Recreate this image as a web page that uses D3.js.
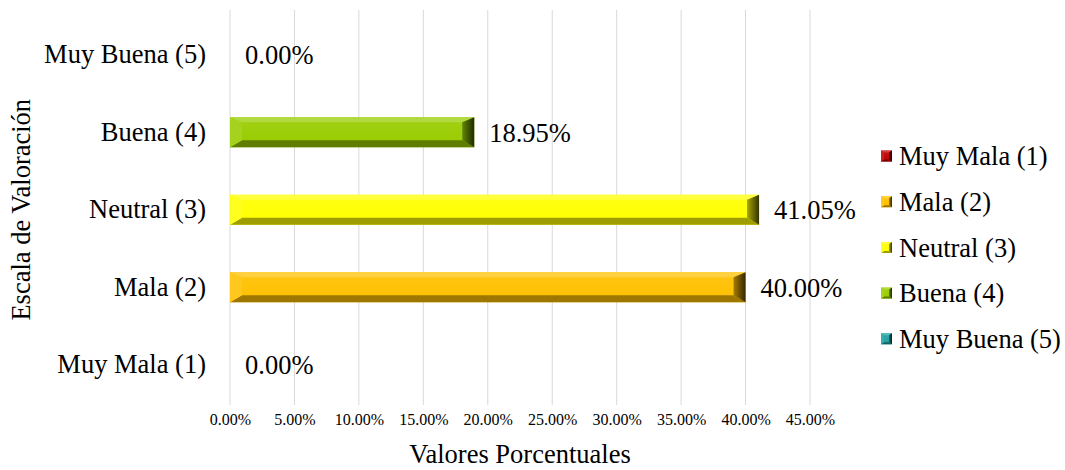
<!DOCTYPE html>
<html>
<head>
<meta charset="utf-8">
<script src="https://cdn.jsdelivr.net/npm/d3@7"></script>
<style>
  html, body { margin: 0; padding: 0; background: #fff; }
  svg { display: block; }
  svg text { font-family: "Liberation Serif", "Times New Roman", serif; fill: #000; }
</style>
</head>
<body>
<svg id="chart" width="1065" height="470"></svg>
<script>
// Rating scale categories (bottom to top) and their percentages
const categories = ["Muy Mala (1)", "Mala (2)", "Neutral (3)", "Buena (4)", "Muy Buena (5)"];
const values = [0.00, 40.00, 41.05, 18.95, 0.00];
const tickValues = [0, 5, 10, 15, 20, 25, 30, 35, 40, 45];
const barColors = ["#c00000", "#ffc000", "#ffff00", "#99cc00", "#1fa0a0"];

const FONT = "'Liberation Serif', 'Times New Roman', serif";
const BIG = 26.5;

const svg = d3.select("#chart");
const plot = { left: 230, right: 810, top: 16, bottom: 403.5 };

const x = d3.scaleLinear().domain([0, 45]).range([plot.left, plot.right]);
const y = d3.scaleBand()
  .domain(categories.slice().reverse())
  .range([plot.top, plot.bottom])
  .paddingInner(0.61)
  .paddingOuter(0.305);

// Vertical gridlines
svg.append("g")
  .selectAll("line")
  .data(tickValues)
  .join("line")
  .attr("x1", d => x(d)).attr("x2", d => x(d))
  .attr("y1", 10).attr("y2", 405)
  .attr("stroke", "#d9d9d9").attr("stroke-width", 1);

// Bottom axis: labels only
const xAxis = d3.axisBottom(x)
  .tickValues(tickValues)
  .tickFormat(d => d.toFixed(2) + "%")
  .tickSize(0)
  .tickPadding(0);
const gx = svg.append("g").attr("transform", "translate(0,414)").call(xAxis);
gx.attr("font-family", FONT);
gx.select(".domain").remove();
gx.selectAll("text")
  .attr("font-family", FONT)
  .attr("font-size", 16).attr("fill", "#000");

// Left axis: category labels
const yAxis = d3.axisLeft(y).tickSize(0).tickPadding(24);
const gy = svg.append("g").attr("transform", `translate(${plot.left},0)`).call(yAxis);
gy.attr("font-family", FONT);
gy.select(".domain").remove();
gy.selectAll("text")
  .attr("font-family", FONT)
  .attr("font-size", BIG).attr("fill", "#000");

// Colour helpers for the bevelled look
const shade = (c, k) => d3.interpolateRgb(c, "#000")(k);
const tint = (c, k) => d3.interpolateRgb(c, "#fff")(k);

const defs = svg.append("defs");
barColors.forEach((c, i) => {
  const g = defs.append("linearGradient").attr("id", "rend" + i)
    .attr("x1", "0").attr("x2", "1").attr("y1", "0").attr("y2", "0");
  g.append("stop").attr("offset", "0").attr("stop-color", shade(c, 0.35));
  g.append("stop").attr("offset", "1").attr("stop-color", shade(c, 0.8));
  const f = defs.append("linearGradient").attr("id", "face" + i)
    .attr("x1", "0").attr("x2", "0").attr("y1", "0").attr("y2", "1");
  f.append("stop").attr("offset", "0").attr("stop-color", tint(c, 0.08));
  f.append("stop").attr("offset", "1").attr("stop-color", c);
});

// Draws a bevelled rectangle (light from upper left)
function bevel(g, x0, y0, w, h, i, bx, bt, bb) {
  const c = barColors[i];
  const x1 = x0 + w, y1 = y0 + h;
  const ix0 = x0 + Math.min(bx, w / 2), ix1 = x1 - Math.min(bx, w / 2);
  const iy0 = y0 + bt, iy1 = y1 - bb;
  const pts = a => a.map(p => p.join(",")).join(" ");
  g.append("rect").attr("x", x0).attr("y", y0).attr("width", w).attr("height", h)
    .attr("fill", `url(#face${i})`);
  g.append("polygon").attr("points", pts([[x0, y0], [x1, y0], [ix1, iy0], [ix0, iy0]]))
    .attr("fill", tint(c, 0.25));
  g.append("polygon").attr("points", pts([[x0, y1], [x1, y1], [ix1, iy1], [ix0, iy1]]))
    .attr("fill", shade(c, 0.38));
  g.append("polygon").attr("points", pts([[x0, y0], [ix0, iy0], [ix0, iy1], [x0, y1]]))
    .attr("fill", tint(c, 0.12));
  g.append("polygon").attr("points", pts([[x1, y0], [ix1, iy0], [ix1, iy1], [x1, y1]]))
    .attr("fill", `url(#rend${i})`);
}

// Bars
const bars = svg.append("g");
const barH = 30;
categories.forEach((cat, i) => {
  const v = values[i];
  const w = x(v) - x(0);
  const cy = y(cat) + y.bandwidth() / 2;
  if (w > 0) bevel(bars, x(0), cy - barH / 2, w, barH, i, 12, 5, 7);
});

// Value labels
svg.append("g")
  .selectAll("text")
  .data(categories)
  .join("text")
  .attr("x", (d, i) => x(values[i]) + 15)
  .attr("y", d => y(d) + y.bandwidth() / 2)
  .attr("dy", "0.35em")
  .attr("font-family", FONT)
  .attr("font-size", BIG)
  .attr("fill", "#000")
  .text((d, i) => values[i].toFixed(2) + "%");

// Legend
const legend = svg.append("g");
categories.forEach((cat, i) => {
  const ly = 156 + i * 45.7;
  bevel(legend, 881, ly - 5.5, 11, 11, i, 3, 2, 2);
  legend.append("text")
    .attr("x", 899).attr("y", ly).attr("dy", "0.35em")
    .attr("font-family", FONT)
    .attr("font-size", BIG).attr("fill", "#000")
    .text(cat);
});

// Axis titles
svg.append("text")
  .attr("x", (plot.left + plot.right) / 2).attr("y", 463)
  .attr("text-anchor", "middle")
  .attr("font-family", FONT)
  .attr("font-size", BIG).attr("fill", "#000")
  .text("Valores Porcentuales");
svg.append("text")
  .attr("transform", `translate(30,${(plot.top + plot.bottom) / 2}) rotate(-90)`)
  .attr("text-anchor", "middle")
  .attr("font-family", FONT)
  .attr("font-size", BIG).attr("fill", "#000")
  .text("Escala de Valoración");
</script>
</body>
</html>
